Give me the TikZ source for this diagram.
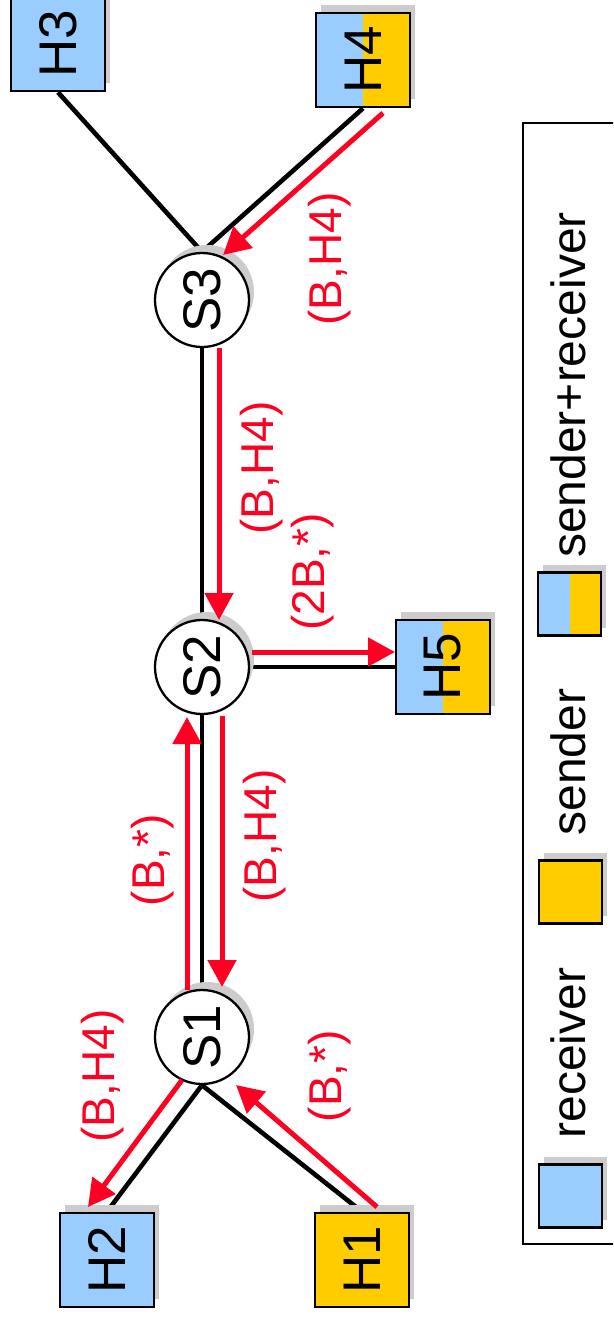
\documentclass[tikz,border=0pt]{standalone}
\usepackage{fontspec}
\setmainfont{Liberation Sans}
\usepackage{graphicx}
\usetikzlibrary{arrows.meta,shadows,backgrounds}

\definecolor{hostblue}{RGB}{153,204,255}
\definecolor{hostyellow}{RGB}{255,204,0}
\definecolor{flowred}{RGB}{255,0,34}
\definecolor{shadowgray}{RGB}{204,204,204}

\tikzset{
  boxshadow/.style={drop shadow={fill=shadowgray, opacity=1, shadow xshift=5pt, shadow yshift=8pt}},
  host/.style={rectangle, draw=black, line width=2.6pt, minimum size=94pt, inner sep=0pt,
               boxshadow, font=\fontsize{53pt}{53pt}\selectfont},
  recv/.style={host, fill=hostblue},
  send/.style={host, fill=hostyellow},
  both/.style={host, fill=hostblue,
    path picture={\fill[hostyellow] (path picture bounding box.north) rectangle (path picture bounding box.south east);}},
  switch/.style={circle, draw=black, line width=2.3pt, fill=white, minimum size=94pt, inner sep=0pt,
                 boxshadow, font=\fontsize{53pt}{53pt}\selectfont},
  link/.style={line width=4.6pt, black},
  flow/.style={line width=5pt, flowred, -{Triangle[length=27pt,width=28pt]}},
  flowlabel/.style={text=flowred, rotate=90, inner sep=0pt, font=\fontsize{46pt}{46pt}\selectfont},
  legendtext/.style={rotate=90, anchor=base, inner sep=0pt, font=\fontsize{48pt}{48pt}\selectfont},
  legendkey/.style={minimum size=63pt},
  legendframe/.style={rectangle, draw=black, line width=2.6pt, inner sep=0pt}
}

\begin{document}
\begin{tikzpicture}[x=1pt, y=-1pt]
\useasboundingbox (0,0) rectangle (613,1319);
\clip (0,0) rectangle (613,1319);

% switches
\node[switch] (S3) at (202,300) {\rotatebox{90}{S3}};
\node[switch] (S2) at (202,667) {\rotatebox{90}{S2}};
\node[switch] (S1) at (202,1037) {\rotatebox{90}{S1}};

% hosts
\node[recv] (H3) at (58,44) {\rotatebox{90}{H3}};
\node[both] (H4) at (363,60) {\rotatebox{90}{H4}};
\node[both] (H5) at (443,667) {\rotatebox{90}{H5}};
\node[recv] (H2) at (107,1260) {\rotatebox{90}{H2}};
\node[send] (H1) at (362,1260) {\rotatebox{90}{H1}};

% physical links
\begin{pgfonlayer}{background}
\draw[link] (H3.south) -- (S3.north);
\draw[link] (H4.south) -- (S3.north);
\draw[link] (S3) -- (S2);
\draw[link] (S2) -- (H5);
\draw[link] (S2) -- (S1);
\draw[link] (S1.south) -- (H2.north);
\draw[link] (S1.south) -- (H1.north);
\end{pgfonlayer}

% packet flows
\coordinate (f1a) at (383,113);  \coordinate (f1b) at (223,255);
\coordinate (f2a) at (219,348);  \coordinate (f2b) at (219,620);
\coordinate (f3a) at (252,652);  \coordinate (f3b) at (395,652);
\coordinate (f4a) at (222,716);  \coordinate (f4b) at (222,987);
\coordinate (f5a) at (187,990);  \coordinate (f5b) at (187,717);
\coordinate (f6a) at (182,1080); \coordinate (f6b) at (88,1207);
\coordinate (f7a) at (377,1207); \coordinate (f7b) at (236,1085);

\draw[flow] (f1a) -- (f1b);
\draw[flow] (f2a) -- (f2b);
\draw[flow] (f3a) -- (f3b);
\draw[flow] (f4a) -- (f4b);
\draw[flow] (f5a) -- (f5b);
\draw[flow] (f6a) -- (f6b);
\draw[flow] (f7a) -- (f7b);

% flow labels
\node[flowlabel] (l1) at (330,259) {(B,H4)};
\node[flowlabel] (l2) at (262,468) {(B,H4)};
\node[flowlabel] (l3) at (313,572) {(2B,*)};
\node[flowlabel] (l4) at (153,860) {(B,*)};
\node[flowlabel] (l5) at (265,836) {(B,H4)};
\node[flowlabel] (l6) at (103,1076) {(B,H4)};
\node[flowlabel] (l7) at (330,1076) {(B,*)};

% legend
\node[legendframe, minimum width=130pt, minimum height=1121pt] (legend) at (588,683.5) {};
\node[recv, legendkey] (kR) at (570.5,1196) {};
\node[send, legendkey] (kS) at (570.5,892) {};
\node[both, legendkey] (kB) at (569.5,604) {};
\node[legendtext] (tR) at (585,1053) {receiver};
\node[legendtext] (tS) at (585,762) {sender};
\node[legendtext] (tB) at (585,385) {sender+receiver};
\end{tikzpicture}
\end{document}
